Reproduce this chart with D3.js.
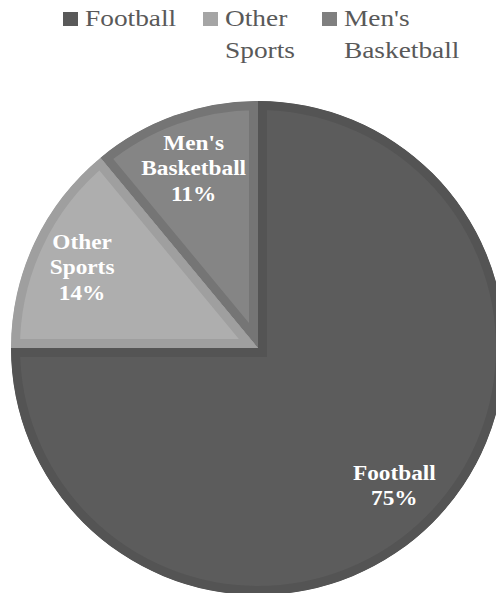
<!DOCTYPE html>
<html><head><meta charset="utf-8">
<script src="https://cdn.jsdelivr.net/npm/d3@7/dist/d3.min.js"></script>
</head><body style="margin:0">
<svg id="c" width="496" height="593"></svg>
<script>
const categories = ["Football", "Other Sports", "Men's Basketball"];
const values = [75, 14, 11];
const fillColors = ["#5c5c5c", "#aeaeae", "#858585"];
const bandColors = ["#545454", "#9f9f9f", "#757575"];
const legendColors = ["#595959", "#a5a5a5", "#7f7f7f"];
const legendLines = [["Football"], ["Other", "Sports"], ["Men's", "Basketball"]];
const labelLines = [["Football", "75%"], ["Other", "Sports", "14%"], ["Men's", "Basketball", "11%"]];

const svg = d3.select("#c");
const cx = 258, cy = 348, R = 247;
const pie = d3.pie().sort(null).value(d => d)(values);
const arc = d3.arc().innerRadius(0).outerRadius(R);
const labelArc = d3.arc().innerRadius(190).outerRadius(190);

const g = svg.append("g").attr("transform", `translate(${cx},${cy})`);
const defs = svg.append("defs");
pie.forEach((p, i) => {
  defs.append("clipPath").attr("id", "clip" + i).append("path").attr("d", arc(p));
});
g.selectAll("path.slice").data(pie).join("path")
  .attr("class", "slice")
  .attr("d", arc)
  .attr("fill", (d, i) => fillColors[i])
  .attr("stroke", (d, i) => bandColors[i])
  .attr("stroke-width", 18)
  .attr("stroke-linejoin", "miter")
  .attr("clip-path", (d, i) => `url(#clip${i})`);

const lblOffsets = [[2, 3], [-4, 0], [0, -1]];
pie.forEach((p, i) => {
  const [x, y] = labelArc.centroid(p);
  const lines = labelLines[i];
  const lh = 25.5;
  const t = g.append("text")
    .attr("transform", `translate(${x + lblOffsets[i][0]},${y + lblOffsets[i][1]}) scale(1.11,1)`)
    .attr("text-anchor", "middle")
    .attr("font-family", "Liberation Serif")
    .attr("font-weight", "bold")
    .attr("font-size", 21)
    .attr("fill", "#ffffff");
  lines.forEach((ln, k) => {
    t.append("tspan").attr("x", 0)
      .attr("y", (k - (lines.length - 1) / 2) * lh + 7)
      .text(ln);
  });
});

// legend
const legX = [63, 203, 322];
const leg = svg.append("g");
categories.forEach((c, i) => {
  leg.append("rect").attr("x", legX[i]).attr("y", 12).attr("width", 15).attr("height", 14)
    .attr("fill", legendColors[i]);
  const t = leg.append("text")
    .attr("transform", `translate(${legX[i] + 22},26) scale(1.14,1)`)
    .attr("font-family", "Liberation Serif")
    .attr("font-size", 24)
    .attr("fill", "#595959");
  legendLines[i].forEach((ln, k) => {
    t.append("tspan").attr("x", 0).attr("y", k * 32.5).text(ln);
  });
});
</script>
</body></html>
